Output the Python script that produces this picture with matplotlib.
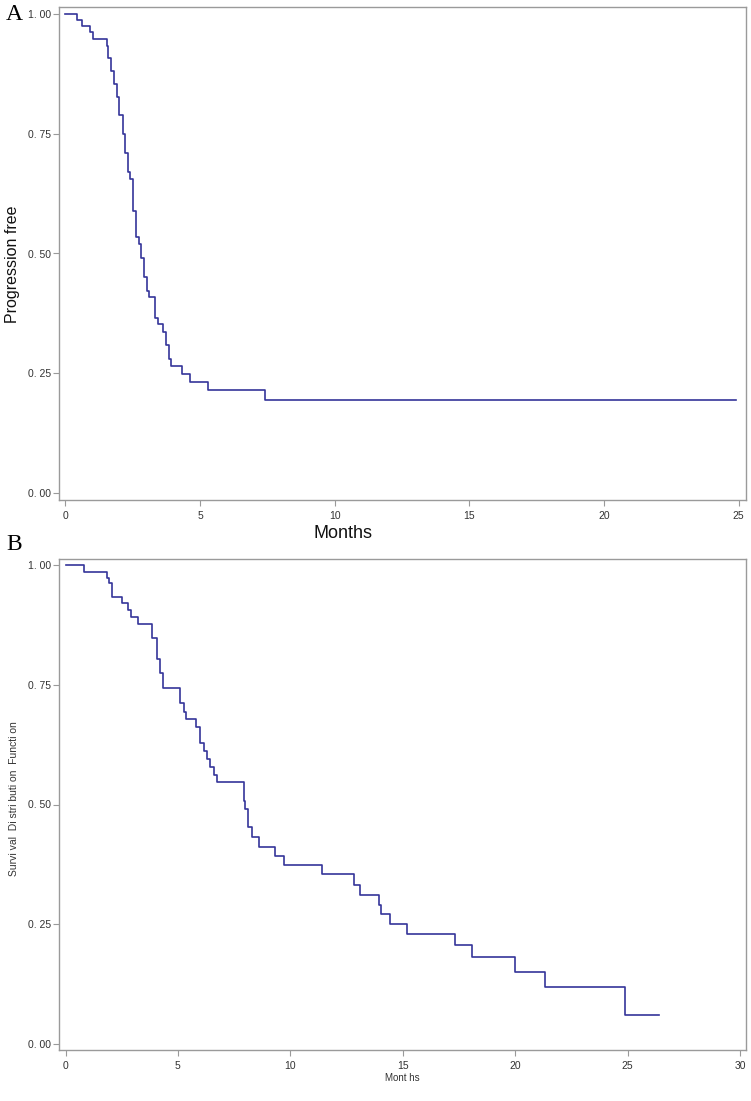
import matplotlib
matplotlib.use("Agg")
import matplotlib.pyplot as plt

# panel A: progression free survival
a_time = [0, 0.43, 0.61, 0.91, 1.02, 1.53, 1.59, 1.69, 1.81, 1.90, 1.99, 2.12,
          2.21, 2.31, 2.39, 2.49, 2.62, 2.72, 2.80, 2.91, 3.01, 3.11, 3.32,
          3.42, 3.63, 3.72, 3.83, 3.93, 4.31, 4.62, 5.31, 7.41, 24.9]
a_surv = [1.0, 0.987, 0.975, 0.962, 0.948, 0.934, 0.909, 0.882, 0.855, 0.827,
          0.789, 0.750, 0.709, 0.670, 0.656, 0.589, 0.534, 0.519, 0.491, 0.450,
          0.422, 0.409, 0.366, 0.352, 0.336, 0.308, 0.279, 0.264, 0.248, 0.232,
          0.215, 0.193, 0.193]

# panel B: overall survival
b_time = [0, 0.82, 1.85, 1.95, 2.08, 2.50, 2.80, 2.92, 3.22, 3.84, 4.09, 4.22,
          4.33, 5.11, 5.26, 5.37, 5.81, 5.99, 6.18, 6.30, 6.41, 6.61, 6.72,
          7.92, 8.00, 8.11, 8.31, 8.62, 9.31, 9.72, 11.43, 12.82, 13.08, 13.93,
          14.04, 14.43, 15.21, 17.33, 18.09, 20.0, 21.31, 24.89, 26.4]
b_surv = [1.0, 0.986, 0.973, 0.962, 0.933, 0.920, 0.906, 0.891, 0.877, 0.847,
          0.804, 0.774, 0.744, 0.711, 0.694, 0.678, 0.661, 0.629, 0.612, 0.596,
          0.579, 0.562, 0.546, 0.508, 0.490, 0.452, 0.433, 0.412, 0.393, 0.374,
          0.354, 0.332, 0.312, 0.290, 0.271, 0.250, 0.229, 0.206, 0.181, 0.150,
          0.120, 0.061, 0.061]

y_ticks = [0, 0.25, 0.5, 0.75, 1.0]
y_ticklabels = ["0. 00", "0. 25", "0. 50", "0. 75", "1. 00"]
a_xticks = [0, 5, 10, 15, 20, 25]
b_xticks = [0, 5, 10, 15, 20, 25, 30]

plt.rcParams['font.family'] = ['Liberation Sans', 'DejaVu Sans']
line_col = '#35359a'
spine_col = '#9a9a9a'
tick_col = '#333333'

W, H = 751, 1101
fig = plt.figure(figsize=(W / 100, H / 100), dpi=100)


def box(l, t, r, b):
    return [l / W, 1 - b / H, (r - l) / W, (b - t) / H]


def style(ax, xticks):
    for s in ax.spines.values():
        s.set_color(spine_col)
        s.set_linewidth(1.0)
    ax.set_yticks(y_ticks)
    ax.set_yticklabels(y_ticklabels)
    ax.set_xticks(xticks)
    ax.tick_params(direction='out', length=4, width=0.8, color=spine_col,
                   labelsize=7.5, labelcolor=tick_col, pad=2)
    ax.tick_params(axis='x', pad=4)


# ---- panel A
ax1 = fig.add_axes(box(59, 7, 746, 500))
ax1.step(a_time, a_surv, where='post', color=line_col, lw=1.2)
ax1.set_xlim(-0.24, 25.27)
ax1.set_ylim(-0.015, 1.015)
style(ax1, a_xticks)
ax1.text(0.414, -0.068, "Months", transform=ax1.transAxes, ha='center',
         va='center', fontsize=13, color='#111111')
fig.text(13 / W, 1 - 264 / H, "Progression free", rotation=90, ha='center',
         va='center', fontsize=11.5, color='#111111')
fig.text(14 / W, 1 - 15 / H, "A", ha='center', va='center', fontsize=17,
         family=['Liberation Serif', 'DejaVu Serif'])

# ---- panel B
ax2 = fig.add_axes(box(59, 559, 746, 1050))
ax2.step(b_time, b_surv, where='post', color=line_col, lw=1.2)
ax2.set_xlim(-0.29, 30.27)
ax2.set_ylim(-0.0125, 1.0125)
style(ax2, b_xticks)
fig.text(402 / W, 1 - 1078 / H, "Mont hs", ha='center', va='center',
         fontsize=7, color=tick_col,
         family=['Liberation Sans Narrow', 'Liberation Sans', 'DejaVu Sans'])
fig.text(14.5 / W, 1 - 799 / H, "Survi val  Di stri buti on  Functi on",
         rotation=90, ha='center', va='center', fontsize=7.5, color=tick_col)
fig.text(14 / W, 1 - 545 / H, "B", ha='center', va='center', fontsize=17,
         family=['Liberation Serif', 'DejaVu Serif'])

fig.savefig("out.png", dpi=100)
